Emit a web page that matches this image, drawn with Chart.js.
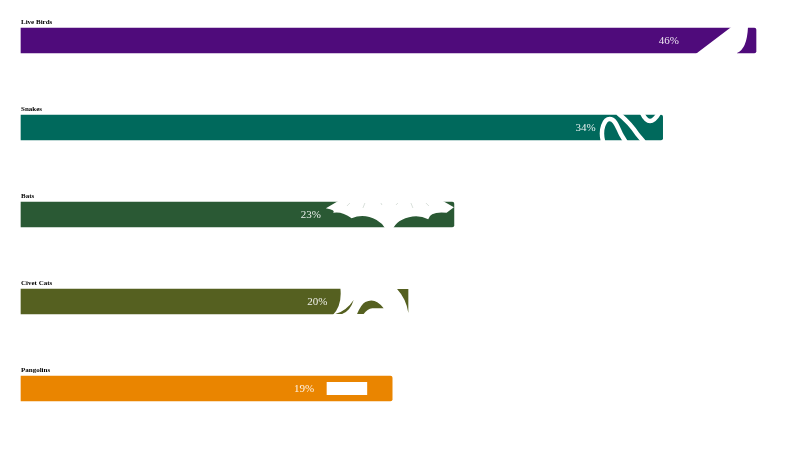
<!DOCTYPE html>
<html>
<head>
<meta charset="utf-8">
<style>
  html, body { margin: 0; padding: 0; background: #fff; }
  #wrap { width: 800px; height: 450px; }
</style>
<script src="https://cdn.jsdelivr.net/npm/chart.js@4/dist/chart.umd.min.js"></script>
</head>
<body>
<div id="wrap"><canvas id="chart"></canvas></div>
<script>
const categories = ['Live Birds', 'Snakes', 'Bats', 'Civet Cats', 'Pangolins'];
// printed shares
const shareLabels = ['46%', '34%', '23%', '20%', '19%'];
const barLengths = [100, 87.3, 58.9, 52.7, 50.5];
const barColors = ['#4f0b7b', '#00695c', '#2a5934', '#556020', '#ea8500'];

// how far the share text ends before the bar end, px
const labelGaps = [77, 67, 133, 81, 78];

// white icons cut out of the bar ends, in px from the bar's top right corner
function drawBird(ctx) {
  ctx.beginPath();
  ctx.moveTo(-24.7, -1);
  ctx.lineTo(-60.3, 26);
  ctx.lineTo(-19, 26);
  ctx.lineTo(-19, 25);
  ctx.quadraticCurveTo(-9, 21, -8, -1);
  ctx.closePath();
  ctx.fill();
}

function drawSnake(ctx) {
  ctx.lineWidth = 4.5;
  ctx.lineCap = 'butt';
  ctx.beginPath();
  ctx.moveTo(-59.5, 27);
  ctx.bezierCurveTo(-63, 14, -58, 4, -53, 4);
  ctx.bezierCurveTo(-47, 4, -45, 13, -41.3, 20);
  ctx.lineTo(-37, 27);
  ctx.stroke();
  ctx.beginPath();
  ctx.moveTo(-45, -2);
  ctx.bezierCurveTo(-36, 5, -30, 12, -24.7, 20);
  ctx.lineTo(-18.7, 27);
  ctx.stroke();
  ctx.beginPath();
  ctx.moveTo(-20.7, -2);
  ctx.quadraticCurveTo(-13, 14, -3.7, -2);
  ctx.stroke();
}

function drawBat(ctx) {
  ctx.beginPath();
  ctx.moveTo(-115.7, -1);
  ctx.lineTo(-128, 6.3);
  ctx.quadraticCurveTo(-118, 8, -120.7, 10.7);
  ctx.quadraticCurveTo(-112, 9, -102.3, 16.3);
  ctx.quadraticCurveTo(-90, 11, -77.3, 18);
  ctx.quadraticCurveTo(-72, 21, -69, 26);
  ctx.lineTo(-60.7, 26);
  ctx.quadraticCurveTo(-57, 20, -52.3, 18);
  ctx.quadraticCurveTo(-38, 11, -25.7, 17.3);
  ctx.quadraticCurveTo(-24, 9, -7.3, 10.7);
  ctx.lineTo(0, 5.3);
  ctx.lineTo(-11, -1);
  ctx.closePath();
  ctx.fill();
  // thin wing ribs
  ctx.strokeStyle = '#c9d2cb';
  ctx.lineWidth = 0.7;
  [[-104, 1, -107, 4], [-89, 1, -91, 6], [-73, 1, -72, 3], [-56, 1, -58, 3], [-43, 1, -41, 6], [-28, 1, -25, 4]].forEach(r => {
    ctx.beginPath();
    ctx.moveTo(r[0], r[1]);
    ctx.lineTo(r[2], r[3]);
    ctx.stroke();
  });
}

function drawCivet(ctx, color) {
  ctx.beginPath();
  ctx.moveTo(-68, -1);
  ctx.quadraticCurveTo(-66, 16, -75.5, 26);
  ctx.lineTo(2, 26);
  ctx.lineTo(2, -1);
  ctx.closePath();
  ctx.fill();
  // the bits of bar still showing through the animal
  ctx.fillStyle = color;
  ctx.beginPath();
  ctx.moveTo(-73, 25);
  ctx.quadraticCurveTo(-62, 22, -54.7, 11);
  ctx.quadraticCurveTo(-58, 22, -66.3, 25);
  ctx.closePath();
  ctx.fill();
  ctx.beginPath();
  ctx.moveTo(-51.3, 25);
  ctx.quadraticCurveTo(-47, 15, -43, 13);
  ctx.quadraticCurveTo(-33, 8, -24.7, 19.3);
  ctx.lineTo(-36, 19.3);
  ctx.quadraticCurveTo(-41, 20, -44.7, 25);
  ctx.closePath();
  ctx.fill();
  ctx.beginPath();
  ctx.moveTo(-11.3, 0);
  ctx.lineTo(0, 0);
  ctx.lineTo(0, 24);
  ctx.quadraticCurveTo(-2, 10, -11.3, 0);
  ctx.closePath();
  ctx.fill();
}

function drawPangolin(ctx) {
  ctx.fillRect(-65.5, 6, 40.5, 13);
}

const iconDrawers = [drawBird, drawSnake, drawBat, drawCivet, drawPangolin];

const barDecor = {
  id: 'barDecor',
  afterDatasetsDraw(chart) {
    const ctx = chart.ctx;
    chart.getDatasetMeta(0).data.forEach((bar, i) => {
      const top = bar.y - bar.height / 2;

      // icon, may run over the bar edge so no hairline of colour is left
      ctx.save();
      ctx.beginPath();
      ctx.rect(bar.base, top - 1, bar.x - bar.base + 1, bar.height + 2);
      ctx.clip();
      ctx.translate(bar.x, top);
      ctx.fillStyle = '#fff';
      ctx.strokeStyle = '#fff';
      iconDrawers[i](ctx, barColors[i]);
      ctx.restore();

      // category name above the bar
      ctx.save();
      ctx.fillStyle = '#000';
      ctx.font = 'bold 7px "Liberation Serif"';
      ctx.textAlign = 'left';
      ctx.textBaseline = 'alphabetic';
      ctx.fillText(categories[i], bar.base, top - 4);

      // share inside the bar
      ctx.fillStyle = 'rgba(255,255,255,0.9)';
      ctx.font = '11px "Liberation Serif"';
      ctx.textAlign = 'right';
      ctx.textBaseline = 'middle';
      ctx.fillText(shareLabels[i], bar.x - labelGaps[i], bar.y + 0.5);
      ctx.restore();
    });
  }
};

new Chart(document.getElementById('chart'), {
  type: 'bar',
  data: {
    labels: categories,
    datasets: [{
      data: barLengths,
      backgroundColor: barColors,
      barThickness: 25,
      clip: false,
      borderSkipped: false,
      borderRadius: { topLeft: 0, bottomLeft: 0, topRight: 2, bottomRight: 2 }
    }]
  },
  options: {
    indexAxis: 'y',
    responsive: true,
    maintainAspectRatio: false,
    animation: false,
    layout: { padding: { left: 21, right: 44, top: 40.5, bottom: 61.5 } },
    plugins: { legend: { display: false }, tooltip: { enabled: false } },
    scales: {
      x: { min: 0, max: 100, display: false },
      y: { display: false, offset: false }
    }
  },
  plugins: [barDecor]
});
</script>
</body>
</html>
